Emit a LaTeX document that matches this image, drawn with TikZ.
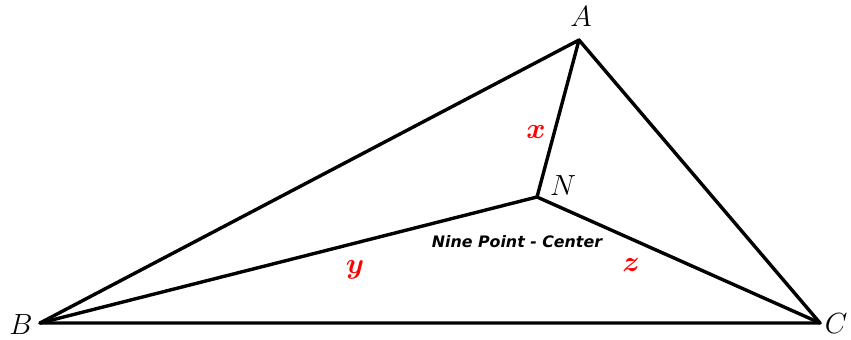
\documentclass[tikz,border=0pt]{standalone}
\usepackage{fontspec}
\usepackage{amsmath}
\usepackage{amssymb}
\usepackage{bm}
\usetikzlibrary{positioning,calc}
\newfontfamily\ninefont{DejaVu Sans}

\begin{document}
\begin{tikzpicture}[
  x=0.03cm, y=-0.03cm,
  side/.style={draw, line width=2.9pt, line join=round, line cap=round},
  vlabel/.style={font=\fontsize{27}{30}\selectfont, inner sep=0pt},
  dist/.style={font=\Huge, text=red, inner sep=0pt},
  ninelabel/.style={font=\ninefont\bfseries\itshape\fontsize{13.5}{15}\selectfont, inner sep=0pt}
]
  \useasboundingbox (0,0) rectangle (851,339);
  \coordinate (A) at (579,40);
  \coordinate (B) at (40,323);
  \coordinate (C) at (820,323);
  \coordinate (N) at (537,197);

  \draw[side] (A) -- (B) -- (C) -- cycle;
  \draw[side] (A) -- (N) -- (B);
  \draw[side] (N) -- (C);

  \node[vlabel] (lA) at (581,17) {$A$};
  \node[vlabel] (lB) at (21,325) {$B$};
  \node[vlabel] (lC) at (836,324) {$C$};
  \node[vlabel] (lN) at (563,186) {$N$};

  \node[dist] (lx) at (536,132) {$\bm{x}$};
  \node[dist] (ly) at (355,270) {$\bm{y}$};
  \node[dist] (lz) at (631,265) {$\bm{z}$};

  \node[ninelabel] (nine) at (517,242) {Nine Point - Center};
\end{tikzpicture}
\end{document}
